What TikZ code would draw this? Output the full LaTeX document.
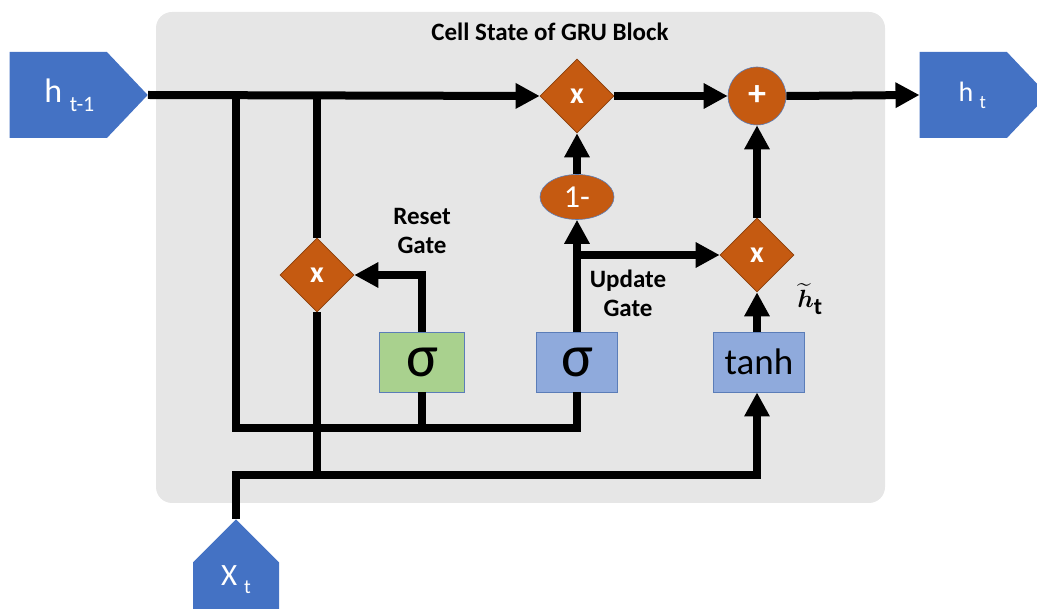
\documentclass[tikz,border=0pt]{standalone}
\usepackage{amsmath}
\usepackage{fontspec}
\setmainfont{Carlito}
\usetikzlibrary{arrows.meta,shapes.geometric,shapes.symbols}

\definecolor{ioblue}{HTML}{4472C4}
\definecolor{oporange}{HTML}{C55A11}
\definecolor{cellgray}{HTML}{E6E6E6}
\definecolor{resgreen}{HTML}{A9D18E}
\definecolor{updblue}{HTML}{8FAADC}
\definecolor{boxline}{HTML}{5B7DB8}

\begin{document}
\begin{tikzpicture}[x=1pt,y=-1pt]
\tikzstyle{wire}=[line width=8pt]
\tikzstyle{flow}=[wire,-{Triangle[length=24pt,width=24pt]}]
\tikzstyle{ioarrow}=[signal,signal from=nowhere,fill=ioblue,text=white,inner sep=0pt]
\tikzstyle{opdiamond}=[diamond,aspect=1,fill=oporange,draw=oporange!70!black,line width=0.6pt,
  text=white,inner sep=0pt,minimum width=74pt,minimum height=74pt,font=\fontsize{30}{30}\selectfont\bfseries]
\tikzstyle{gatebox}=[rectangle,draw=boxline,line width=0.8pt,inner sep=0pt,minimum height=60pt]
\tikzstyle{gatetext}=[align=center,font=\fontsize{25}{29}\selectfont\bfseries]

\useasboundingbox (0,0) rectangle (1037,609);
\clip (0,0) rectangle (1037,609);

%% Cell background
\node [fill=cellgray,rounded corners=16pt,minimum width=729pt,minimum height=491pt,inner sep=0pt]
  (cell) at (520.5,257.5) {};
\node [font=\fontsize{25}{25}\selectfont\bfseries] (title) at (550,32) {Cell State of GRU Block};

%% Inputs and output
\node [ioarrow,signal to=east,signal pointer angle=93,minimum width=138pt,minimum height=86pt,anchor=east,
  font=\fontsize{34}{34}\selectfont] (hprev) at (148,95)
  {\hspace*{22pt}h \raisebox{-9pt}{\fontsize{22}{22}\selectfont t-1}};
\node [ioarrow,signal to=east,signal pointer angle=93,minimum width=128pt,minimum height=86pt,anchor=east,
  font=\fontsize{28}{28}\selectfont] (hnext) at (1048,95)
  {\hspace*{18pt}h \raisebox{-7pt}{\fontsize{19}{19}\selectfont t}};
\node [ioarrow,signal to=north,signal pointer angle=90,minimum width=86pt,minimum height=94pt,anchor=north,
  text height=20pt,text depth=52pt,font=\fontsize{31}{31}\selectfont] (xin) at (236,519)
  {X \raisebox{-8pt}{\fontsize{20}{20}\selectfont t}};

%% Operators
\node [opdiamond] (mulTop) at (577,96) {x};
\node [circle,fill=oporange,draw=boxline,line width=0.6pt,text=white,minimum size=58pt,inner sep=0pt,
  font=\fontsize{36}{36}\selectfont\bfseries] (plus) at (757,96) {+};
\node [ellipse,fill=oporange,draw=boxline,line width=0.6pt,text=white,minimum width=74pt,minimum height=45pt,
  inner sep=0pt,font=\fontsize{32}{32}\selectfont] (oneminus) at (577,197) {1-};
\node [opdiamond] (mulGate) at (757,255) {x};
\node [opdiamond] (mulRes) at (317,275) {x};

%% Gates
\node [gatebox,fill=resgreen,minimum width=85pt,font=\fontsize{60}{60}\selectfont] (sigRes) at (422,362) {σ};
\node [gatebox,fill=updblue,minimum width=81pt,font=\fontsize{60}{60}\selectfont] (sigUpd) at (577,362) {σ};
\node [gatebox,fill=updblue,minimum width=91pt,font=\fontsize{37}{37}\selectfont] (tanhbox) at (759,362) {tanh};

%% Labels
\node [gatetext] (resetlbl) at (422,231) {Reset\\Gate};
\node [gatetext] (updlbl) at (628,293) {Update\\Gate};
\node [inner sep=0pt,font=\fontsize{34}{34}\selectfont] (htilde) at (810,299) {$\boldsymbol{\widetilde{h}}_{\mathbf{t}}$};

%% Forks
\coordinate (hfork1) at (236,96);
\coordinate (hfork2) at (mulRes |- hprev.east);
\coordinate (busA) at (236,428);
\coordinate (busB) at (236,475);
\coordinate (updfork) at (sigUpd.north |- mulGate);

%% Main line
\draw [flow] (hprev.east) -- (mulTop.west);
\draw [flow] (mulTop.east) -- (plus.west);
\draw [flow] (plus.east) -- (hnext.west);
\draw [flow] (oneminus.north) -- (mulTop.south);
\draw [flow] (mulGate.north) -- (plus.south);
\draw [flow] (tanhbox.north -| mulGate) -- (mulGate.south);

%% Update gate
\draw [flow] (sigUpd.north) -- (oneminus.south);
\draw [flow] (updfork) -- (mulGate.west);

%% Reset gate
\draw [flow] (sigRes.north) |- (mulRes.east);
\draw [wire] (hfork2) -- (mulRes.north);
\draw [wire] (mulRes.south) -- (mulRes.south |- busB);

%% h(t-1) into the gates
\draw [wire] (hfork1) -- (busA) -| (sigUpd.south);
\draw [wire] (sigRes.south) -- (sigRes.south |- busA);

%% x(t) into the gates
\draw [flow] (xin.north) -- (busB) -| (tanhbox.south -| mulGate);
\end{tikzpicture}
\end{document}
